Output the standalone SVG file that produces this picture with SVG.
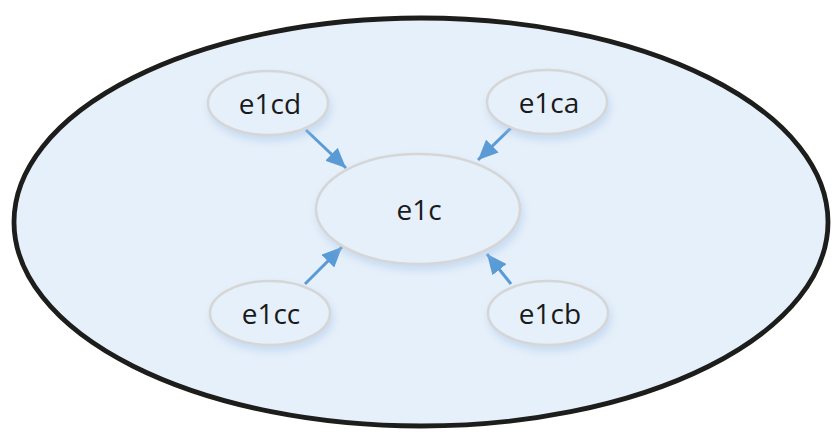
<svg xmlns="http://www.w3.org/2000/svg" width="837" height="432" viewBox="0 0 837 432">
  <defs>
    <filter id="soft" x="-30%" y="-30%" width="160%" height="180%">
      <feGaussianBlur in="SourceAlpha" stdDeviation="4"/>
      <feOffset dx="2" dy="5" result="b"/>
      <feFlood flood-color="#9fc0e6" flood-opacity="0.45"/>
      <feComposite in2="b" operator="in"/>
      <feMerge><feMergeNode/><feMergeNode in="SourceGraphic"/></feMerge>
    </filter>
    <marker id="arrow" viewBox="0 0 20 18" refX="20" refY="9" markerWidth="20" markerHeight="18" markerUnits="userSpaceOnUse" orient="auto">
      <path d="M0,0 L20,9 L0,18 z" fill="#5b9bd5"/>
    </marker>
  </defs>
  <style>
    .outer { fill: #e6f0fa; stroke: #1d1d1b; stroke-width: 4.8; }
    .node ellipse { fill: #e6f0fa; stroke: #d6d6d6; stroke-width: 2.5; filter: url(#soft); }
    .node text { font-family: "Open Sans", "Noto Sans", sans-serif; font-size: 28px; fill: #1a1a1a; text-anchor: middle; dominant-baseline: central; }
    .edge { stroke: #5b9bd5; stroke-width: 3; fill: none; marker-end: url(#arrow); }
  </style>

  <ellipse class="outer" cx="421" cy="222" rx="407" ry="204"/>

  <g id="connectors">
    <line class="edge" x1="306" y1="130" x2="346" y2="168"/>
    <line class="edge" x1="512" y1="127" x2="478" y2="160"/>
    <line class="edge" x1="305" y1="284" x2="342" y2="247"/>
    <line class="edge" x1="511" y1="284" x2="487" y2="254"/>
  </g>

  <g id="e1c" class="node">
    <ellipse cx="418" cy="209" rx="102" ry="55"/>
    <text x="419" y="209">e1c</text>
  </g>
  <g id="e1cd" class="node">
    <ellipse cx="268" cy="103" rx="60" ry="32"/>
    <text x="270" y="103">e1cd</text>
  </g>
  <g id="e1ca" class="node">
    <ellipse cx="547" cy="102" rx="60" ry="32"/>
    <text x="549" y="102">e1ca</text>
  </g>
  <g id="e1cc" class="node">
    <ellipse cx="270" cy="313" rx="60" ry="32"/>
    <text x="271" y="313">e1cc</text>
  </g>
  <g id="e1cb" class="node">
    <ellipse cx="548" cy="313" rx="60" ry="32"/>
    <text x="550" y="313">e1cb</text>
  </g>
</svg>
